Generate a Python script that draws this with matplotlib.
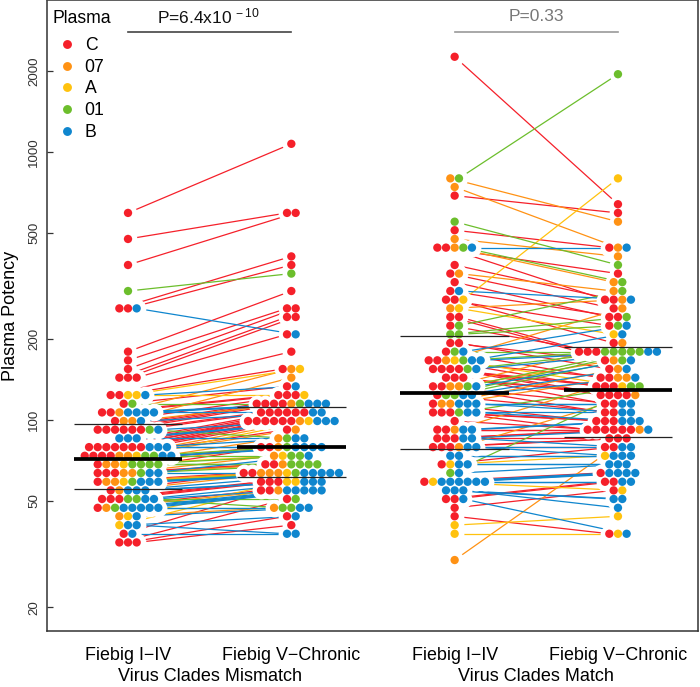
import matplotlib
matplotlib.use("Agg")
import matplotlib.pyplot as plt
from matplotlib.lines import Line2D
from matplotlib.ticker import NullLocator

plt.rcParams['font.family'] = ['Liberation Sans', 'DejaVu Sans']
plt.rcParams['mathtext.fontset'] = 'custom'
plt.rcParams['mathtext.rm'] = 'Liberation Sans'
plt.rcParams['mathtext.default'] = 'regular'

# Clade codes: C=C, O=07, A=A, G=01, B=B
clade_codes = ["C", "O", "A", "G", "B"]
clade_labels = ["C", "07", "A", "01", "B"]
clade_colors = ["#F5202A", "#FF9214", "#FFC20E", "#6CBE2C", "#0F86CE"]

mismatch_early_values = [593, 474, 379, 303, 261, 179.9, 167, 155, 143.9, 123.9, 115, 106.7, 99.1, 92,
                         85.4, 79.2, 73.5, 68.3, 63.4, 58.8, 54.6, 50.7, 47, 43.7, 40.5, 37.6, 34.9]
mismatch_early_clades = ["C", "C", "C", "G", "CCB", "C", "C", "C", "CCC", "CCAAB", "CG", "CCOBBBB", "COOB",
                         "CCCCCCGB", "BBB", "CCCCCCCBBB", "CCCCOOAGGBB", "COOAGGGG", "CCCOOGBB", "COOAGBBB",
                         "COBBB", "CCCGGBB", "COGBBBBB", "OAB", "ABB", "CB", "CCC"]

mismatch_late_values = [1074, 593, 408, 379, 352, 303, 261, 242.4, 208.8, 179.9, 155, 143.9, 133.5, 123.9,
                        115, 106.7, 99.1, 92, 85.4, 79.2, 73.5, 68.3, 63.4, 58.8, 54.6, 50.7, 47, 43.7, 40.5, 37.6]
mismatch_late_clades = ["C", "CC", "C", "C", "G", "C", "CC", "CC", "CB", "C", "COA", "O", "CB", "CCCA",
                        "CCCCOGBBB", "CCCCCCBB", "CCCCCCOABBB", "CO", "OGBB", "CCOGBBBB", "OAGGB", "CCOGGGG",
                        "CCOOOAGBBBBB", "CCCAABBB", "CCOBBBBB", "CG", "OGGBB", "CB", "C", "BB"]

match_early_values = [2270, 798, 741, 688, 550, 511, 474, 440, 379, 352, 327, 303, 281.3, 261, 242.4, 225,
                      208.8, 193.8, 179.9, 167, 155, 143.9, 133.5, 123.9, 115, 106.7, 99.1, 92, 85.4, 79.2,
                      73.5, 68.3, 63.4, 58.8, 54.6, 50.7, 47, 43.7, 40.5, 37.6, 30]
match_early_clades = ["C", "OG", "O", "C", "G", "C", "O", "CCOGB", "C", "CO", "C", "CB", "CCA", "OA", "CC", "CG",
                      "GG", "CC", "CGB", "CCOAGBB", "CCCCGB", "CCC", "CCOOGB", "CGGBB", "COOBBB", "CCCGBB", "C",
                      "CCOBB", "CCCBB", "CCCOBB", "BB", "CABB", "GB", "CABBBBBB", "BBB", "CCB", "C", "C", "A", "A", "O"]

match_late_values = [1954, 798, 639, 593, 550, 440, 408, 379, 352, 327, 303, 281.3, 261, 242.4, 225, 208.8,
                     193.8, 179.9, 167, 155, 143.9, 133.5, 123.9, 115, 106.7, 99.1, 92, 85.4, 79.2, 73.5,
                     68.3, 63.4, 58.8, 54.6, 50.7, 47, 43.7, 37.6]
match_late_clades = ["G", "A", "C", "C", "O", "COB", "O", "G", "C", "OG", "OG", "CCOB", "CO", "CCG", "CGB", "AB",
                     "CO", "CCCGGGGGBB", "COGB", "COB", "CCOOB", "CCCAGG", "CCCCO", "CCBB", "CCBB", "CCCBBB",
                     "CCCCCCOB", "CCC", "CCBB", "ABBB", "BBB", "CBBBB", "CCBB", "CA", "BB", "B", "A", "CAB"]

group_positions = [1, 2, 3, 4]
group_labels = ["Fiebig I\u2212IV", "Fiebig V\u2212Chronic", "Fiebig I\u2212IV", "Fiebig V\u2212Chronic"]
panel_labels = ["Virus Clades Mismatch", "Virus Clades Match"]
medians = [71.8, 79.5, 125.8, 129.4]
upper_quartiles = [96.6, 111.5, 205, 187.3]
lower_quartiles = [55.1, 61.3, 78.2, 86.2]
bracket_level = 2798
y_ticks = [20, 50, 100, 200, 500, 1000, 2000]

DOT_STEP = 0.053
BAR_HALF = 0.332

fig = plt.figure(figsize=(7.0, 6.87), dpi=100)
ax = fig.add_axes([47/700, (687-631)/687, 651/700, 630.5/687])
ax.set_yscale("log")
ax.set_xlim(0.504, 4.49)
ax.set_ylim(16.3, 3682)


def layout(values, clades, centre):
    """Centre every row of the swarm; return (x, value, code) in row order."""
    out = []
    for v, row in zip(values, clades):
        for i, code in enumerate(row):
            out.append((centre + (i - (len(row) - 1) / 2) * DOT_STEP, v, code))
    return out


groups = [layout(mismatch_early_values, mismatch_early_clades, group_positions[0]),
          layout(mismatch_late_values, mismatch_late_clades, group_positions[1]),
          layout(match_early_values, match_early_clades, group_positions[2]),
          layout(match_late_values, match_late_clades, group_positions[3])]

# Paired lines: within a clade, samples are linked in rank order.
for first, second in ((groups[0], groups[1]), (groups[2], groups[3])):
    for code, colour in zip(clade_codes, clade_colors):
        a = sorted([p for p in first if p[2] == code], key=lambda p: -p[1])
        b = sorted([p for p in second if p[2] == code], key=lambda p: -p[1])
        for p, q in zip(a, b):
            ax.plot([p[0], q[0]], [p[1], q[1]], color=colour, lw=0.9, zorder=2, solid_capstyle="butt")

for g in groups:
    xs = [p[0] for p in g]
    ys = [p[1] for p in g]
    ax.scatter(xs, ys, s=165, c="white", linewidths=0, zorder=3)
for g in groups:
    xs = [p[0] for p in g]
    ys = [p[1] for p in g]
    cs = [clade_colors[clade_codes.index(p[2])] for p in g]
    ax.scatter(xs, ys, s=36, c=cs, linewidths=0, zorder=4)

for x, med, up, lo in zip(group_positions, medians, upper_quartiles, lower_quartiles):
    ax.plot([x - BAR_HALF, x + BAR_HALF], [med, med], color="black", lw=2.7, zorder=6, solid_capstyle="butt")
    for q in (up, lo):
        ax.plot([x - BAR_HALF, x + BAR_HALF], [q, q], color="#222222", lw=0.9, zorder=5, solid_capstyle="butt")

# P-value brackets
ax.plot([1, 2], [bracket_level, bracket_level], color="#444444", lw=1.2, zorder=2)
ax.plot([3, 4], [bracket_level, bracket_level], color="#999999", lw=1.2, zorder=2)
ax.text(1.495, 0.975, "P=6.4x10$^{\\,-10}$", transform=ax.get_xaxis_transform(), ha="center", va="center",
        fontsize=12.5, color="#111111")
ax.text(3.5, 0.975, "P=0.33", transform=ax.get_xaxis_transform(), ha="center", va="center",
        fontsize=12.5, color="#777777")

ax.set_xticks(group_positions)
ax.set_xticklabels(group_labels, fontsize=12.9)
ax.tick_params(axis="x", length=0, pad=11.5)
ax.set_yticks(y_ticks)
ax.set_yticklabels([str(t) for t in y_ticks], rotation=90, va="center", fontsize=9.6, color="#333333")
ax.yaxis.set_minor_locator(NullLocator())
ax.tick_params(axis="y", direction="in", length=4.3, width=0.9, pad=5, color="#333333")
ax.set_ylabel("Plasma Potency", fontsize=13, va="center")
ax.yaxis.set_label_coords(-0.0555, 0.5)
for x, label in zip([1.5, 3.5], panel_labels):
    ax.text(x, -0.0725, label, transform=ax.get_xaxis_transform(), ha="center", va="center", fontsize=13)
for s in ax.spines.values():
    s.set_linewidth(1.1)
    s.set_color("#333333")

handles = [Line2D([], [], ls="", marker="o", ms=6.4, mfc=c, mec="none") for c in clade_colors]
leg = ax.legend(handles, clade_labels, title="Plasma", frameon=False, fontsize=12.7, title_fontsize=12.7,
                loc="upper left", bbox_to_anchor=(5/651, 1 - 9.3/631), borderaxespad=0, borderpad=0,
                handlelength=1.75, handletextpad=0.1, labelspacing=0.27, alignment="left")
leg._legend_box.sep = 7.3
leg.set_zorder(7)

fig.savefig("out.png", dpi=100)
